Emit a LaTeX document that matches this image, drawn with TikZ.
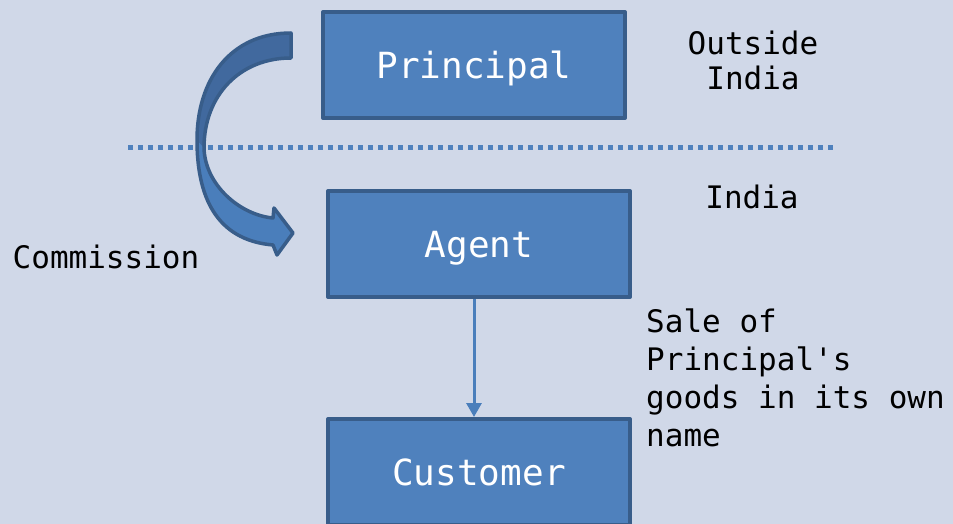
\documentclass[tikz,border=0pt]{standalone}
\usepackage{fontspec}
\setmonofont{DejaVu Sans Mono}
\usetikzlibrary{arrows.meta}
\definecolor{bgpanel}{RGB}{208,216,232}
\definecolor{boxfill}{RGB}{79,129,189}
\definecolor{boxline}{RGB}{56,93,138}
\definecolor{bendtop}{RGB}{65,105,158}
\definecolor{bendlow}{RGB}{74,126,187}
\tikzset{
  party/.style={draw=boxline, fill=boxfill, line width=4pt, minimum width=302pt, minimum height=106pt,
    text height=27pt, text depth=0pt, text=white, font=\ttfamily\fontsize{36}{40}\selectfont},
  note/.style={font=\ttfamily\fontsize{31}{38}\selectfont, inner sep=0pt}
}
\begin{document}
\begin{tikzpicture}[x=1pt, y=-1pt, >={Triangle[length=14pt,width=15pt]}, line join=round]
		\def\W{953} \def\H{524}
		\fill[bgpanel] (0,0) rectangle (\W,\H);
		\useasboundingbox (0,0) rectangle (\W,\H);
		\clip (0,0) rectangle (\W,\H);
		% border between the two countries
		\draw[boxfill, line width=5pt, dash pattern=on 5pt off 5pt] (128,148)--(836,148);
		\node[party] (principal) at (474,65) {Principal};
		\node[party] (agent) at (479,244) {Agent};
		\node[party] (customer) at (479,472) {Customer};
		\draw[->, bendlow, line width=3pt] ([xshift=-5pt]agent.south)--([xshift=-5pt]customer.north);
		% bent arrow for the commission
		\def\bend{(291,33) .. controls (230,33) and (197,80) .. (197,140)
			.. controls (197,195) and (215,240) .. (273,245)
			-- (277,255) -- (293,233) -- (274,208) -- (273,218)
			.. controls (240,215) and (205,185) .. (204,148)
			.. controls (204,95) and (240,58) .. (291,58) -- cycle}
		\fill[bendlow] \bend;
		\fill[bendtop] (291,33) .. controls (230,33) and (197,80) .. (197,140)
			-- (204,148) .. controls (204,95) and (240,58) .. (291,58) -- cycle;
		\draw[boxline, line width=3.5pt] \bend;
		\node[note, align=center] (outside) at (753,60) {Outside\\[-3pt]India};
		\node[note] (india) at (752,197) {India};
		\node[note] (commission) at (106,257) {Commission};
		\node[note, align=left, anchor=west] (sale) at (646,378) {Sale of\\Principal's\\goods in its own\\name};
\end{tikzpicture}
\end{document}
